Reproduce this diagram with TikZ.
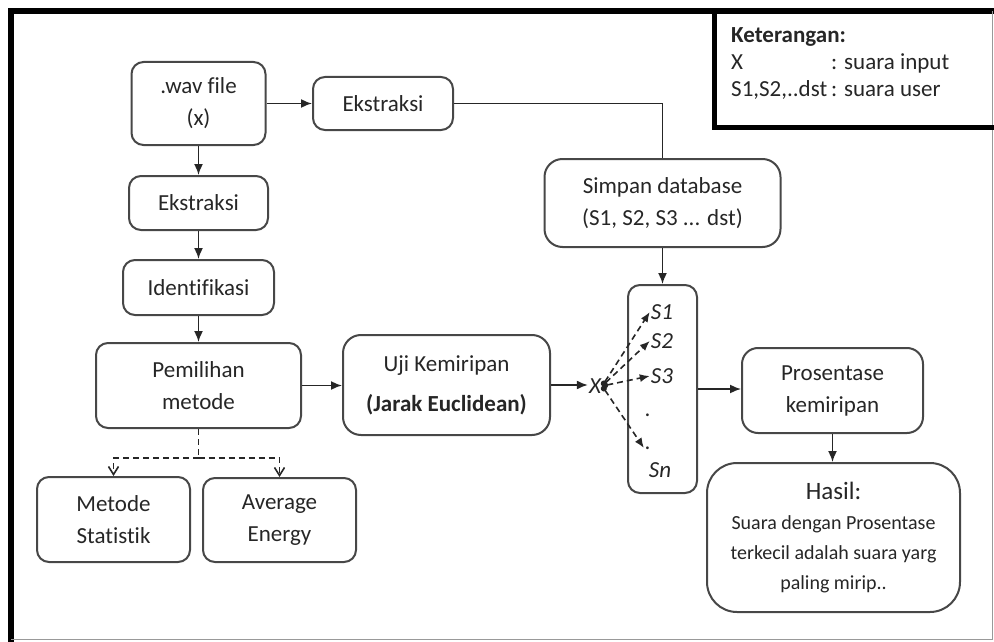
\documentclass[tikz,border=0pt]{standalone}
\usepackage{fontspec}
\setmainfont{Carlito}[Ligatures=NoCommon]
\usetikzlibrary{arrows.meta}

\begin{document}
\begin{tikzpicture}[x=1pt,y=1pt,yscale=-1,
  box/.style={draw=black!72, line width=2pt, rounded corners=12pt, align=center, inner sep=0pt,
    text=black!85, font=\fontsize{23}{32}\selectfont},
  lbl/.style={inner sep=1pt, text=black!85, font=\fontsize{23}{27}\selectfont\itshape},
  arr/.style={-{Latex[length=11pt,width=9pt]}, line width=1.6pt, draw=black!85},
  dasharr/.style={{Circle[length=6pt]}-{Latex[length=10pt,width=8pt]}, dash pattern=on 6pt off 4pt,
    line width=1.6pt, draw=black!85},
  splitarr/.style={-{Straight Barb[length=8pt,width=10pt]}, dash pattern=on 6pt off 4pt,
    line width=1.6pt, draw=black!85}
]
\useasboundingbox (0,0) rectangle (994,642);

% frame and legend
\draw[line width=6pt] (11,642) -- (11,11) -- (994,11);
\draw[black!40, line width=1.5pt] (11,639.5) -- (992.5,639.5) -- (992.5,11);
\draw[line width=5pt] (714.5,11) -- (714.5,127.5) -- (994,127.5);
\node[anchor=north west, inner sep=0pt, text=black!85, font=\fontsize{23}{27}\selectfont] (keterangan) at (731,23)
  {\begin{tabular}{@{}l@{\,}l@{}}
   \multicolumn{2}{@{}l@{}}{\textbf{Keterangan:}}\\
   X & : suara input\\
   S1,S2,..dst & : suara user
   \end{tabular}};

% left column
\node[box, minimum width=134, minimum height=83] (wav) at (198.5,103.5) {.wav file\\(x)};
\node[box, minimum width=139, minimum height=54] (ekstrak1) at (198.5,203) {Ekstraksi};
\node[box, minimum width=151, minimum height=55] (identifikasi) at (198.5,287.5) {Identifikasi};
\node[box, minimum width=205, minimum height=85] (pemilihan) at (198.5,385.5) {Pemilihan\\metode};
\node[box, minimum width=153, minimum height=85] (statistik) at (113.5,519.5) {Metode\\Statistik};
\node[box, minimum width=153, minimum height=84] (energy) at (279.5,520) {Average\\Energy};

% middle
\node[box, minimum width=140, minimum height=53] (ekstrak2) at (383,103.5) {Ekstraksi};
\node[box, minimum width=207, minimum height=100, rounded corners=18pt] (uji) at (446.5,385)
  {Uji Kemiripan\\[8pt]\textbf{(Jarak Euclidean)}};
\node[box, minimum width=236, minimum height=88, rounded corners=18pt] (simpan) at (662.5,203)
  {Simpan database\\(S1, S2, S3 ... dst)};

% S column
\node[box, minimum width=69, minimum height=208] (sbox) at (662.5,389) {};
\node[lbl] (x) at (595,386) {X};
\node[lbl] (s1) at (662,312) {S1};
\node[lbl] (s2) at (662,341) {S2};
\node[lbl] (s3) at (662,376) {S3};
\node[lbl] (sdot1) at (648,415) {.};
\node[lbl] (sdot2) at (648,448) {.};
\node[lbl] (sn) at (660,470) {Sn};

% right
\node[box, minimum width=181, minimum height=85, rounded corners=16pt] (prosentase) at (832.5,390.5)
  {Prosentase\\kemiripan};
\node[box, minimum width=253, minimum height=149, rounded corners=30pt,
  font=\fontsize{20}{30}\selectfont] (hasil) at (833.5,537.5)
  {{\fontsize{25}{30}\selectfont Hasil:}\\
   Suara dengan Prosentase\\
   terkecil adalah suara yarg\\
   paling mirip..};

% connectors
\draw[arr] (wav) -- (ekstrak2);
\draw[arr] (wav) -- (ekstrak1);
\draw[arr] (ekstrak1) -- (identifikasi);
\draw[arr] (identifikasi) -- (pemilihan);
\draw[line width=1.6pt, draw=black!85] (ekstrak2.east) -| (simpan.north);
\draw[arr] (simpan) -- (sbox);
\draw[arr] (pemilihan.east) -- (pemilihan.east -| uji.west);
\draw[arr] (uji.east) -- (uji.east -| x.west);
\foreach \s in {s1,s2,s3,sdot2}
  \draw[dasharr] (x.east) -- (\s.west);
\draw[line width=1.6pt, draw=black!85, dash pattern=on 6pt off 4pt] (pemilihan.south) -- ++(0,29) coordinate (split);
\draw[splitarr] (split) -| (statistik.north);
\draw[splitarr] (split) -| (energy.north);
\draw[arr] (sbox.east) -- (sbox.east -| prosentase.west);
\draw[arr] (prosentase.south) -- (prosentase.south |- hasil.north);
\end{tikzpicture}
\end{document}
